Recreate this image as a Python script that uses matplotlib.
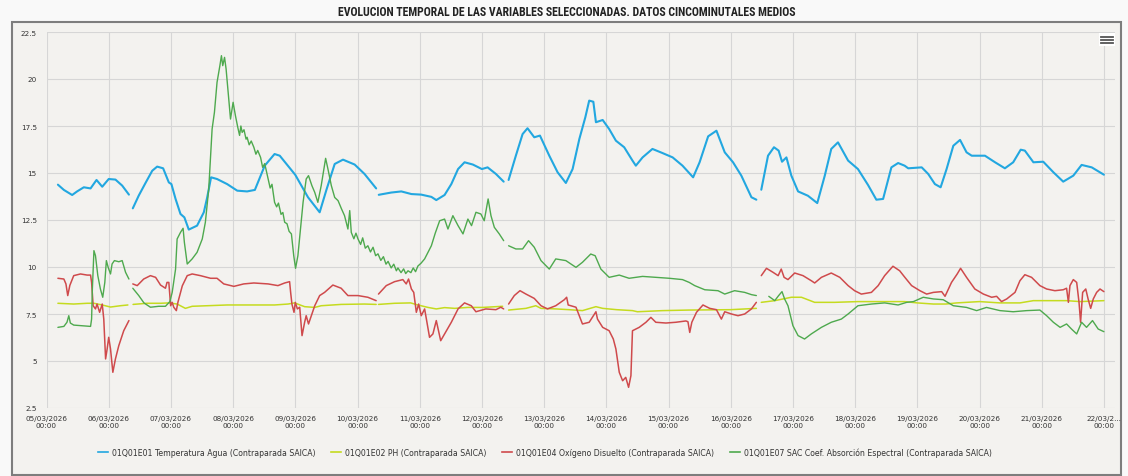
import numpy as np
import matplotlib
matplotlib.use("Agg")
import matplotlib.pyplot as plt
from matplotlib.patches import Rectangle
from matplotlib.lines import Line2D

nan = np.nan

# ---- data: hours since 05/03/2026 00:00 and values (nan = no data) ----
temp_hours = [4.4, 6.7, 9.9, 11.8, 14.4, 17.0, 19.3, 21.5, 24.0, 26.6, 29.2, 31.8,
              32.5,
              33.3, 35.6, 38.2, 40.8, 42.7, 45.0, 47.2, 48.2, 49.8, 51.7, 53.2, 54.9,
              58.1, 60.7, 62.0, 63.5, 65.8, 69.7, 73.6, 77.4, 80.4, 84.2, 88.0, 90.0,
              96.0, 100.9, 105.4, 108.0, 111.2, 114.4, 118.9, 122.7, 127.2,
              127.7,
              128.2, 133.0, 136.9, 140.8, 144.6, 148.5, 150.4, 153.6, 156.2, 158.8,
              161.3, 164.5, 168.0, 170.2, 173.4, 176.4,
              177.3,
              178.3, 181.1, 183.7, 185.6, 188.2, 190.4, 194.0, 197.2, 200.4, 203.0,
              205.6, 207.9, 209.4, 211.0, 212.0, 214.6, 217.1, 219.7, 222.9, 226.1,
              227.4, 230.0, 233.8, 237.7, 241.6, 245.4, 249.5, 252.0, 255.3, 258.5,
              261.7, 264.9, 268.1, 272.0, 273.9,
              274.8,
              275.8, 278.4, 280.7, 282.5, 283.8, 285.5, 287.4, 290.0, 293.8, 297.4,
              300.3, 302.8, 305.4, 309.3, 313.1, 317.0, 320.2, 322.8, 326.0, 328.6,
              331.1, 332.5, 337.7, 340.2, 342.8, 345.0, 347.3, 349.9, 352.5, 355.0,
              357.0, 362.1, 366.0, 369.8, 373.0, 375.9, 377.5, 380.8, 384.6, 388.5,
              392.3, 396.2, 399.4, 403.3, 408.0]
temp_values = [14.38, 14.10, 13.83, 14.02, 14.24, 14.18, 14.63, 14.27, 14.68, 14.65, 14.33, 13.85,
               nan,
               13.12, 13.80, 14.47, 15.12, 15.34, 15.25, 14.50, 14.41, 13.62, 12.82, 12.64, 11.99,
               12.20, 12.91, 13.70, 14.77, 14.68, 14.41, 14.06, 14.02, 14.10, 15.39, 16.01, 15.92,
               14.90, 13.71, 12.91, 14.10, 15.48, 15.71, 15.45, 14.95, 14.18,
               nan,
               13.84, 13.96, 14.02, 13.88, 13.85, 13.73, 13.56, 13.83, 14.41, 15.21,
               15.57, 15.45, 15.21, 15.30, 14.95, 14.54,
               nan,
               14.63, 15.92, 17.07, 17.38, 16.90, 16.99, 15.92, 15.04, 14.47, 15.21,
               16.81, 17.96, 18.85, 18.79, 17.70, 17.82, 17.34, 16.72, 16.37, 15.66,
               15.39, 15.83, 16.28, 16.06, 15.83, 15.39, 14.77, 15.57, 16.95, 17.25,
               16.10, 15.57, 14.86, 13.71, 13.58,
               nan,
               14.11, 15.92, 16.37, 16.19, 15.60, 15.83, 14.86, 14.02, 13.79, 13.40,
               14.86, 16.28, 16.63, 15.66, 15.21, 14.36, 13.58, 13.62, 15.30, 15.53,
               15.39, 15.25, 15.30, 14.95, 14.41, 14.24, 15.21, 16.45, 16.76, 16.10,
               15.92, 15.92, 15.57, 15.25, 15.57, 16.24, 16.19, 15.57, 15.60, 15.04,
               14.54, 14.86, 15.43, 15.30, 14.91]

ph_hours = [4.4, 10.5, 15.7, 18.3, 21.5, 24.7, 28.5, 31.4,
            32.5,
            33.4, 38.8, 44.0, 47.2, 50.4, 53.6, 56.2, 62.0, 69.7, 80.0, 88.0,
            93.2, 95.7, 99.6, 103.5, 106.0, 113.7, 122.7, 127.2,
            127.7,
            128.1, 134.3, 140.5, 143.3, 147.2, 150.4, 153.6, 157.5, 162.6, 168.3, 176.0,
            177.3,
            178.3, 185.0, 188.8, 190.8, 196.5, 201.7, 206.8, 212.0, 214.6, 220.0,
            226.1, 228.0, 237.7, 248.0, 264.0, 273.9,
            274.8,
            275.8, 281.0, 287.4, 291.3, 296.4, 304.1, 313.1, 323.4, 331.1, 336.0,
            342.2, 347.0, 351.2, 360.0, 367.9, 375.6, 380.8, 393.6, 398.8, 408.0]
ph_values = [8.07, 8.03, 8.07, 8.07, 7.98, 7.87, 7.94, 7.98,
             nan,
             8.01, 8.07, 8.07, 8.09, 8.03, 7.80, 7.91, 7.94, 7.98, 7.98, 7.98,
             8.03, 8.09, 7.89, 7.85, 7.94, 8.01, 8.03, 8.01,
             nan,
             8.01, 8.07, 8.09, 7.98, 7.85, 7.77, 7.84, 7.80, 7.85, 7.85, 7.91,
             nan,
             7.71, 7.80, 7.94, 7.80, 7.77, 7.73, 7.68, 7.89, 7.80, 7.73,
             7.68, 7.62, 7.68, 7.71, 7.73, 7.80,
             nan,
             8.12, 8.21, 8.39, 8.39, 8.12, 8.12, 8.16, 8.16, 8.16, 8.09,
             8.03, 8.03, 8.09, 8.16, 8.09, 8.09, 8.21, 8.21, 8.16, 8.21]

oxy_hours = [4.4, 6.7, 7.5, 8.2, 9.0, 10.5, 13.1, 15.7, 17.0, 17.4, 18.0, 18.9, 19.5,
             20.5, 21.5, 22.1, 22.8, 23.4, 24.0, 24.7, 25.6, 26.6, 27.9, 29.8, 31.8,
             32.5,
             33.3, 35.0, 37.5, 40.1, 42.1, 44.0, 45.9, 46.5, 47.2, 47.9, 48.5, 49.1,
             50.1, 50.7, 51.7, 52.4, 54.3, 56.2, 59.4, 63.3, 65.8, 68.4, 72.3, 76.1,
             80.0, 85.5, 89.3, 91.9, 93.8, 94.2, 94.7, 95.5, 96.0, 96.8, 97.7, 98.6,
             99.6, 100.2, 101.1, 102.2, 103.5, 105.4, 107.3, 110.5, 113.7, 116.3,
             120.2, 124.0, 127.2,
             127.7,
             128.1, 131.1, 134.3, 137.5, 138.8, 139.7, 140.8, 141.7, 142.7, 143.6,
             144.6, 145.9, 147.8, 149.1, 150.4, 152.1, 154.3, 156.2, 158.8, 161.3,
             163.9, 165.7, 169.5, 173.4, 175.3, 176.4,
             177.3,
             178.3, 180.5, 182.7, 185.0, 188.2, 190.8, 193.3, 196.5, 199.8, 200.7,
             201.3, 204.3, 206.8, 209.4, 211.0, 212.0, 212.6, 214.6, 217.1, 218.7,
             219.7, 221.0, 222.3, 223.5, 224.6, 225.5, 226.1, 228.7, 231.3, 233.2,
             235.1, 239.0, 242.8, 246.7, 247.5, 248.2, 249.0, 250.8, 253.3, 255.9,
             258.5, 260.4, 261.7, 264.3, 266.8, 269.4, 272.0, 273.9,
             274.8,
             275.8, 277.8, 280.3, 282.3, 283.5, 284.6, 286.1, 288.7, 291.9, 295.1,
             296.4, 299.0, 302.8, 306.1, 309.3, 311.8, 314.4, 318.3, 320.9, 323.4,
             326.6, 329.2, 331.2, 333.8, 337.0, 339.6, 342.2, 345.4, 346.7, 349.2,
             351.4, 352.7, 355.0, 358.2, 361.5, 364.7, 366.6, 368.5, 370.5, 373.7,
             375.6, 377.5, 380.1, 383.3, 385.9, 389.1, 392.3, 393.6, 394.3, 394.9,
             396.2, 397.5, 398.4, 399.0, 399.8, 401.0, 401.9, 402.9, 403.9, 405.2,
             406.5, 408.0]
oxy_values = [9.40, 9.36, 9.10, 8.48, 9.02, 9.54, 9.63, 9.57, 9.57, 9.18, 7.94, 7.77, 8.03,
              7.59, 8.03, 7.23, 5.11, 5.64, 6.26, 5.64, 4.40, 5.11, 5.82, 6.61, 7.15,
              nan,
              9.10, 9.01, 9.36, 9.54, 9.45, 9.04, 8.87, 9.18, 9.18, 7.94, 8.12, 7.86,
              7.68, 8.12, 8.65, 9.00, 9.54, 9.63, 9.54, 9.40, 9.40, 9.10, 8.97, 9.10,
              9.15, 9.10, 9.01, 9.15, 9.22, 8.65, 8.03, 7.59, 8.12, 7.77, 7.86, 6.35,
              7.06, 7.41, 6.97, 7.41, 7.94, 8.48, 8.65, 9.04, 8.87, 8.48,
              8.48, 8.39, 8.21,
              nan,
              8.56, 9.01, 9.22, 9.33, 9.10, 9.36, 8.83, 8.65, 7.59, 8.03,
              7.41, 7.77, 6.26, 6.44, 7.15, 6.08, 6.61, 7.06, 7.77, 8.09,
              7.94, 7.62, 7.77, 7.73, 7.86, 7.77,
              nan,
              8.03, 8.48, 8.74, 8.56, 8.33, 7.94, 7.77, 7.94, 8.26, 8.39,
              7.98, 7.86, 6.97, 7.06, 7.41, 7.62, 7.23, 6.79, 6.61, 6.17,
              5.64, 4.40, 3.95, 4.13, 3.60, 4.22, 6.61, 6.79, 7.06, 7.32,
              7.06, 7.02, 7.06, 7.13, 7.09, 6.52, 7.06, 7.59, 7.98, 7.80,
              7.73, 7.23, 7.62, 7.50, 7.41, 7.50, 7.77, 8.12,
              nan,
              9.54, 9.93, 9.72, 9.54, 9.89, 9.45, 9.33, 9.68, 9.54, 9.27,
              9.15, 9.45, 9.68, 9.45, 9.01, 8.74, 8.56, 8.65, 9.01, 9.54,
              10.04, 9.80, 9.45, 9.01, 8.74, 8.56, 8.65, 8.69, 8.44, 9.18,
              9.63, 9.93, 9.45, 8.83, 8.56, 8.39, 8.44, 8.16, 8.30, 8.65,
              9.27, 9.59, 9.45, 9.01, 8.83, 8.74, 8.79, 8.87, 8.12, 9.01,
              9.33, 9.18, 8.12, 7.06, 8.65, 8.83, 8.30, 7.80, 8.30, 8.65,
              8.83, 8.69]

sac_hours = [4.4, 6.7, 7.9, 8.6, 9.2, 10.5, 13.1, 17.0, 17.4, 17.7, 18.3, 18.9, 19.8,
             20.8, 21.7, 22.5, 23.1, 23.8, 24.7, 25.3, 26.2, 27.9, 29.2, 30.5, 31.8,
             32.5,
             33.3, 35.6, 37.6, 40.1, 43.3, 45.9, 47.6, 48.5, 49.8, 50.4, 51.7, 52.7,
             53.2, 54.3, 56.2, 58.1, 60.1, 61.3, 62.6, 63.9, 64.8, 65.8, 66.9, 67.5,
             68.0, 68.7, 69.3, 70.1, 71.0, 72.0, 72.9,
             73.8, 74.5, 75.0, 75.5, 76.2, 77.0, 77.4, 78.2, 79.0, 80.0, 80.8, 81.5,
             82.6, 83.4, 84.2, 85.5, 86.3, 87.0, 88.0, 88.8, 89.5, 90.5, 91.2, 91.9,
             92.8, 93.6, 94.5,
             95.4, 96.1, 97.0, 99.0, 100.2, 101.1, 102.4,
             103.5, 104.7, 106.0, 107.7, 108.6, 109.9, 111.2, 112.5, 113.8, 115.0,
             116.3, 117.0,
             117.6, 118.6, 119.4, 120.2, 121.2, 122.0, 123.0, 124.0, 125.0, 126.0,
             127.0, 127.9, 129.0, 130.0, 131.0, 131.8, 133.0, 134.0, 135.0, 135.6,
             136.8, 137.8, 138.6, 139.5, 140.6, 141.5, 142.4, 143.3, 144.5, 145.9,
             148.5, 150.0,
             151.7, 153.6, 154.9, 156.8, 158.8, 160.7, 162.6, 164.0, 165.7, 167.6, 168.9,
             170.4, 171.5, 172.8, 174.7, 176.4,
             177.3,
             178.3, 181.1, 183.7, 186.0, 188.2, 190.8, 194.0, 196.5, 200.4, 204.3,
             206.8, 210.0, 211.7, 213.9, 217.1, 221.0, 224.8, 230.0, 235.1, 240.3,
             245.4, 248.0, 250.1, 254.0, 259.1, 261.7, 265.5, 269.4, 272.0, 273.9,
             274.8,
             278.7, 281.0, 282.5, 283.8, 284.8, 286.1, 288.0, 290.0, 292.5, 295.1,
             299.0, 302.8, 306.7, 309.3, 313.1, 318.3, 323.4, 328.6, 331.9, 334.5,
             338.3, 342.2, 346.0, 349.9, 355.0, 358.9, 362.7, 367.9, 373.0, 378.2,
             383.3, 385.9, 388.5, 391.1, 393.6, 395.5, 397.5, 399.4, 401.3, 403.6,
             405.8, 408.0]
sac_values = [6.79, 6.84, 7.06, 7.41, 7.02, 6.91, 6.88, 6.84, 7.23, 8.83, 10.87, 10.60, 9.54,
              8.83, 8.39, 9.18, 10.34, 9.98, 9.63, 10.16, 10.34, 10.28, 10.34, 9.72, 9.36,
              nan,
              8.87, 8.48, 8.09, 7.86, 7.91, 7.91, 8.16, 8.65, 9.89, 11.49, 11.84, 12.06,
              11.31, 10.16, 10.43, 10.78, 11.49, 12.38, 14.15, 17.34, 18.23, 19.82, 20.71, 21.24,
              20.71, 21.15, 20.53, 19.29, 17.87, 18.76, 18.05,
              17.43, 17.00, 17.50, 17.16, 17.30, 16.80, 16.90, 16.50, 16.70, 16.37, 16.00, 16.20,
              15.83, 15.30, 15.50, 14.68, 14.20, 14.40, 13.44, 13.20, 13.40, 12.80, 12.90, 12.38,
              12.30, 11.90, 11.76,
              10.60, 9.93, 10.60, 13.44, 14.68, 14.86, 14.33,
              13.97, 13.44, 14.33, 15.78, 15.21, 14.33, 13.70, 13.53, 13.10, 12.73,
              12.02, 13.00,
              11.84, 11.50, 11.80, 11.49, 11.20, 11.55, 11.00, 11.13, 10.80, 11.05,
              10.60, 10.70, 10.35, 10.55, 10.15, 10.30, 9.95, 10.15, 9.80, 9.95,
              9.70, 9.90, 9.65, 9.80, 9.70, 9.95, 9.75, 10.05, 10.20, 10.43,
              11.13, 11.80,
              12.46, 12.55, 12.02, 12.73, 12.20, 11.76, 12.55, 12.20, 12.91, 12.82, 12.46,
              13.62, 12.73, 12.11, 11.76, 11.40,
              nan,
              11.13, 10.96, 10.96, 11.40, 11.05, 10.34, 9.89, 10.43, 10.34, 9.98,
              10.25, 10.69, 10.60, 9.89, 9.45, 9.57, 9.40, 9.50, 9.45, 9.40,
              9.33, 9.18, 9.01, 8.79, 8.74, 8.56, 8.74, 8.65, 8.53, 8.48,
              nan,
              8.44, 8.21, 8.48, 8.69, 8.30, 7.94, 6.88, 6.35, 6.17, 6.44,
              6.79, 7.06, 7.23, 7.50, 7.94, 8.03, 8.09, 7.98, 8.12, 8.16,
              8.39, 8.30, 8.26, 7.94, 7.85, 7.68, 7.85, 7.68, 7.62, 7.68,
              7.71, 7.41, 7.06, 6.79, 6.97, 6.70, 6.44, 7.06, 6.79, 7.15,
              6.70, 6.56]

series = [
    (temp_hours, temp_values, "01Q01E01 Temperatura Agua (Contraparada SAICA)", "#22a7e0", 1.5),
    (ph_hours, ph_values, "01Q01E02 PH (Contraparada SAICA)", "#c5db1f", 1.1),
    (oxy_hours, oxy_values, "01Q01E04 Oxígeno Disuelto (Contraparada SAICA)", "#cf4a4c", 1.1),
    (sac_hours, sac_values, "01Q01E07 SAC Coef. Absorción Espectral (Contraparada SAICA)", "#4ea94e", 1.0),
]

day_labels = ["05/03/2026", "06/03/2026", "07/03/2026", "08/03/2026", "09/03/2026",
              "10/03/2026", "11/03/2026", "12/03/2026", "13/03/2026", "14/03/2026",
              "15/03/2026", "16/03/2026", "17/03/2026", "18/03/2026", "19/03/2026",
              "20/03/2026", "21/03/2026", "22/03/2..."]
y_ticks = [2.5, 5, 7.5, 10, 12.5, 15, 17.5, 20, 22.5]
y_tick_labels = ["2.5", "5", "7.5", "10", "12.5", "15", "17.5", "20", "22.5"]

title = "EVOLUCION TEMPORAL DE LAS VARIABLES SELECCIONADAS. DATOS CINCOMINUTALES MEDIOS"

# ---- figure ----
W, H = 1128, 477
fig = plt.figure(figsize=(W / 100, H / 100), dpi=100, facecolor="#f9f9f9")

# panel box behind the chart
panel = Rectangle((12 / W, 1 / H), 1109 / W, 453 / H, transform=fig.transFigure,
                  facecolor="#f3f2ef", edgecolor="#7d7d7d", linewidth=1.5, zorder=-10)
fig.patches.append(panel)

ax = fig.add_axes([46.5 / W, (H - 409) / H, (1115 - 46.5) / W, (409 - 33) / H])
ax.set_zorder(1)
ax.set_facecolor("#f3f2ef")
for s in ax.spines.values():
    s.set_visible(False)

for hrs, vals, name, color, lw in series:
    ax.plot(hrs, vals, color=color, lw=lw, label=name, solid_joinstyle="round",
            solid_capstyle="round")

ax.set_xlim(0, (1115 - 46.5) * 24 / 62.2)
ax.set_ylim(2.5, 22.5)
ax.set_xticks(np.arange(len(day_labels)) * 24)
ax.set_xticklabels([d + "\n00:00" for d in day_labels], fontsize=5.2, color="#333333",
                   linespacing=1.3)
ax.set_yticks(y_ticks)
ax.set_yticklabels(y_tick_labels, fontsize=5.2, color="#333333")
ax.tick_params(axis="both", length=0)
ax.tick_params(axis="y", pad=7)
ax.tick_params(axis="x", pad=5)
ax.grid(True, color="#d6d6d6", lw=0.8)
ax.set_axisbelow(True)

fig.text(567 / W, 1 - 13 / H, title, ha="center", va="center", fontsize=8.5,
         fontweight="bold", color="#222222",
         family=["Liberation Sans Narrow", "Roboto Condensed", "Roboto", "DejaVu Sans"])

handles = [Line2D([], [], color=c, lw=1.2) for _, _, _, c, _ in series]
labels = [n for _, _, n, _, _ in series]
fig.legend(handles, labels, loc="center", bbox_to_anchor=(545 / W, 1 - 453 / H),
           ncol=4, frameon=False, fontsize=5.6, handlelength=1.3, handletextpad=0.5,
           columnspacing=2.0, labelcolor="#333333")

# menu icon in the top-right corner
fig.patches.append(Rectangle((1099 / W, 1 - 47 / H), 16 / W, 13 / H, transform=fig.transFigure,
                             facecolor="#ffffff", edgecolor="none", zorder=5))
for yy in (37.5, 40.7, 44.0):
    fig.add_artist(Line2D([1101 / W, 1113 / W], [1 - yy / H, 1 - yy / H],
                          color="#555555", lw=1.3, zorder=6))

fig.savefig("out.png", dpi=100, facecolor=fig.get_facecolor())
